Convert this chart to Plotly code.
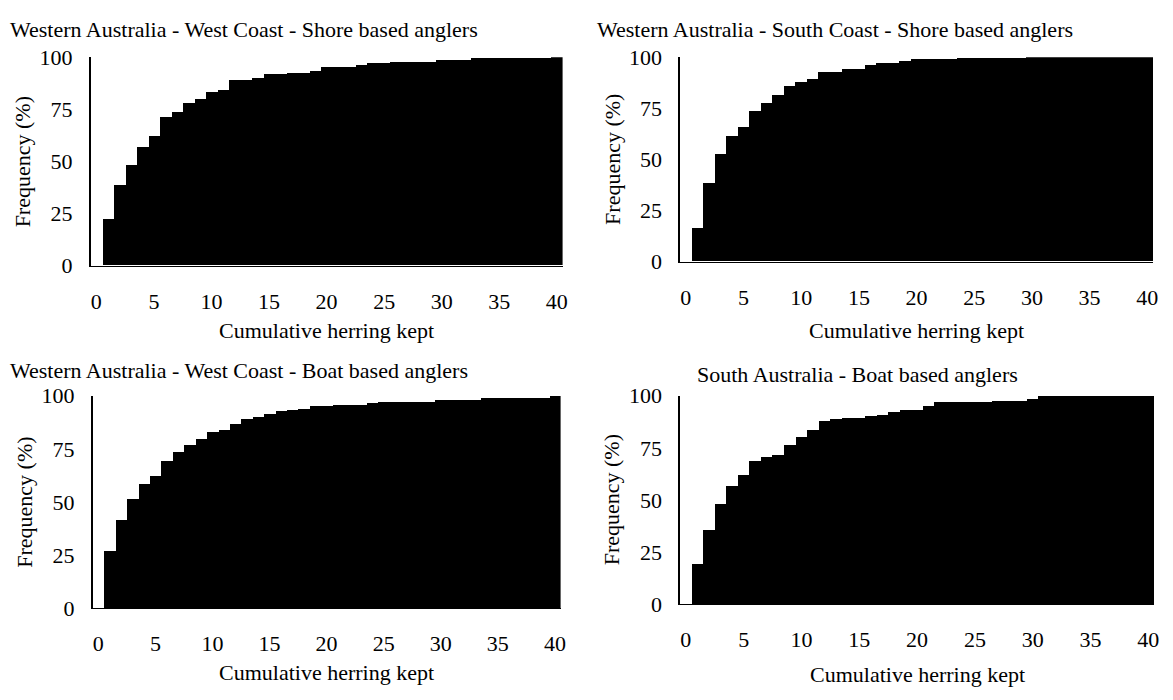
import plotly.graph_objects as go

# Cumulative herring kept (number of fish per angler), 0..40
herring_kept = list(range(41))

# Cumulative frequency (%) for each survey group
wa_west_shore = [0, 22, 38.5, 48, 57, 62, 71, 73.5, 78, 80,
                 83, 84, 89, 89, 90, 92, 92, 92.5, 92.5, 93.5,
                 95, 95, 95, 96.3, 97, 97, 97.8, 97.8, 97.8, 97.8,
                 98.6, 98.6, 98.6, 99.5, 99.5, 99.5, 99.5, 99.5, 99.5, 99.5,
                 100]
wa_south_shore = [0, 16.5, 38.5, 52.5, 61.5, 66, 73.5, 77.5, 81.5, 86,
                  88, 89, 92.5, 92.5, 94, 94, 96, 97, 97, 98,
                  99, 99, 99, 99, 99.7, 99.7, 99.7, 99.7, 99.7, 99.7,
                  100, 100, 100, 100, 100, 100, 100, 100, 100, 100,
                  100]
wa_west_boat = [0, 27, 41.5, 51.5, 58.5, 62.5, 69.5, 73.5, 77, 79.5,
                83, 84, 87, 89, 90, 91.3, 92.7, 93.5, 94.1, 95.1,
                95.1, 95.9, 95.9, 95.9, 96.6, 97.4, 97.4, 97.4, 97.4, 97.4,
                98.1, 98.1, 98.1, 98.1, 99.2, 99.2, 99.2, 99.2, 99.2, 99.2,
                100]
sa_boat = [0, 19.5, 35.8, 48, 56.8, 62, 68.8, 70.7, 71.5, 76.7,
           80.1, 83.7, 87.8, 88.9, 89.5, 89.5, 90.4, 90.7, 92.3, 93.2,
           93.2, 95.1, 97, 97, 97, 97, 97, 97.6, 97.6, 97.6,
           98.6, 100, 100, 100, 100, 100, 100, 100, 100, 100,
           100]

panel_titles = ["Western Australia - West Coast - Shore based anglers",
                "Western Australia - South Coast - Shore based anglers",
                "Western Australia - West Coast - Boat based anglers",
                "South Australia - Boat based anglers"]
series = [wa_west_shore, wa_south_shore, wa_west_boat, sa_boat]

x_tick_vals = [0, 5, 10, 15, 20, 25, 30, 35, 40]
y_tick_vals = [0, 25, 50, 75, 100]

W, H = 1173, 700
FONT = "Liberation Serif, Times New Roman, serif"
FS = 22

# plot areas in pixels: (left, right, top, bottom)
boxes = [(91, 565, 47, 263),
         (683, 1158, 47, 259),
         (93, 563, 398, 618),
         (683, 1159, 398, 614)]
# title positions (left x, top y) in pixels
title_pos = [(8, 3), (598, 3), (8, 357), (698, 361)]
# vertical centre of each x-axis title in pixels
xtitle_y = [330, 330, 685, 687]

fig = go.Figure()
layout = dict(
    width=W, height=H,
    margin=dict(l=0, r=0, t=0, b=0),
    paper_bgcolor="white", plot_bgcolor="white",
    showlegend=False, bargap=0,
    font=dict(family=FONT, size=FS, color="black"),
)
annotations = []

for i, (vals, (l, r, t, b)) in enumerate(zip(series, boxes)):
    n = "" if i == 0 else str(i + 1)
    fig.add_trace(go.Bar(
        x=herring_kept, y=vals,
        marker=dict(color="black", line=dict(width=0)),
        xaxis="x" + n, yaxis="y" + n,
    ))
    layout["xaxis" + n] = dict(
        domain=[l / W, r / W], anchor="y" + n,
        range=[-0.5, 40.5], tickvals=x_tick_vals,
        showgrid=False, zeroline=False,
        showline=True, linecolor="black", linewidth=1,
        ticks="", ticklabelstandoff=16,
        tickfont=dict(family=FONT, size=FS),
    )
    layout["yaxis" + n] = dict(
        domain=[1 - b / H, 1 - t / H], anchor="x" + n,
        range=[0, 100], tickvals=y_tick_vals,
        showgrid=False, zeroline=False,
        showline=True, linecolor="black", linewidth=1.5,
        ticks="", ticklabelstandoff=12,
        tickfont=dict(family=FONT, size=FS),
    )
    # panel title
    tx, ty = title_pos[i]
    annotations.append(dict(
        text=panel_titles[i], xref="paper", yref="paper",
        x=tx / W, y=1 - ty / H, xanchor="left", yanchor="top",
        showarrow=False, font=dict(family=FONT, size=FS),
    ))
    # x-axis title
    annotations.append(dict(
        text="Cumulative herring kept", xref="paper", yref="paper",
        x=((l + r) / 2) / W, y=1 - xtitle_y[i] / H,
        xanchor="center", yanchor="middle",
        showarrow=False, font=dict(family=FONT, size=FS),
    ))
    # y-axis title
    annotations.append(dict(
        text="Frequency (%)", xref="paper", yref="paper",
        x=(l - 68) / W, y=1 - ((t + b) / 2) / H,
        xanchor="center", yanchor="middle", textangle=-90,
        showarrow=False, font=dict(family=FONT, size=FS),
    ))

layout["annotations"] = annotations
fig.update_layout(**layout)
fig.write_html("out.html")
